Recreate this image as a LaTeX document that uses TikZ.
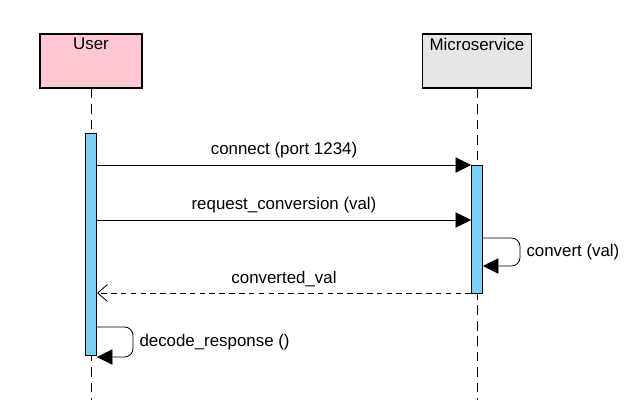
\documentclass[tikz,border=0pt]{standalone}
\usepackage{fontspec}
\setmainfont{Liberation Sans}
\usepackage{xcolor}
\usetikzlibrary{arrows.meta,positioning}
\definecolor{userpink}{RGB}{255,200,210}
\definecolor{svcgray}{RGB}{230,230,230}
\definecolor{actblue}{RGB}{125,208,245}

\begin{document}
\begin{tikzpicture}[x=0.025cm, y=-0.025cm,
  head/.style={draw, line width=0.9pt, minimum width=102*0.025cm, minimum height=54*0.025cm, inner sep=0pt},
  act/.style={draw, fill=actblue, line width=0.7pt, minimum width=11*0.025cm, inner sep=0pt},
  life/.style={dash pattern=on 7pt off 4pt, line width=0.6pt},
  msg/.style={-{Triangle[length=11pt, width=11pt]}, line width=0.6pt},
  ret/.style={-{Straight Barb[length=7pt, width=12pt]}, dash pattern=on 4pt off 3pt, line width=0.6pt},
  self/.style={-{Triangle[length=11pt, width=11pt]}, line width=0.6pt, rounded corners=6pt},
  lab/.style={font=\fontsize{12}{14}\selectfont}]
\useasboundingbox (0,0) rectangle (636,400);
% lifeline heads
\node[head, fill=userpink, label={[lab, anchor=north, inner sep=3pt]north:User}] (user) at (91,61) {};
\node[head, fill=svcgray, minimum width=109*0.025cm, label={[lab, anchor=north, inner sep=3pt]north:Microservice}] (svc) at (477,61) {};
% lifelines
\coordinate (userend) at (91,400);
\coordinate (svcend) at (477,400);
\draw[life] (user.south) -- (userend);
\draw[life] (svc.south) -- (svcend);
% activations
\node[act, minimum height=222*0.025cm, anchor=north] (useract) at (91,133) {};
\node[act, minimum height=128*0.025cm, anchor=north] (svcact) at (477,165) {};
% message rows
\coordinate (m1) at (0,165);
\coordinate (m2) at (0,220);
\coordinate (m3) at (0,238);
\coordinate (m3b) at (0,266);
\coordinate (m4) at (0,293);
\coordinate (m5) at (0,327);
\coordinate (m5b) at (0,357);
\draw[msg] (useract.east |- m1) -- node[lab, above=1pt] {connect (port 1234)} (svcact.west |- m1);
\draw[msg] (useract.east |- m2) -- node[lab, above=1pt] {request\_conversion (val)} (svcact.west |- m2);
\draw[self] (svcact.east |- m3) -- ++(37,0) -- node[lab, right=1pt] {convert (val)} ++(0,28) -- (svcact.east |- m3b);
\draw[ret] (svcact.west |- m4) -- node[lab, above=1pt] {converted\_val} (useract.east |- m4);
\draw[self] (useract.east |- m5) -- ++(36,0) -- node[lab, right=1pt] {decode\_response ()} ++(0,30) -- (useract.east |- m5b);
\end{tikzpicture}
\end{document}
